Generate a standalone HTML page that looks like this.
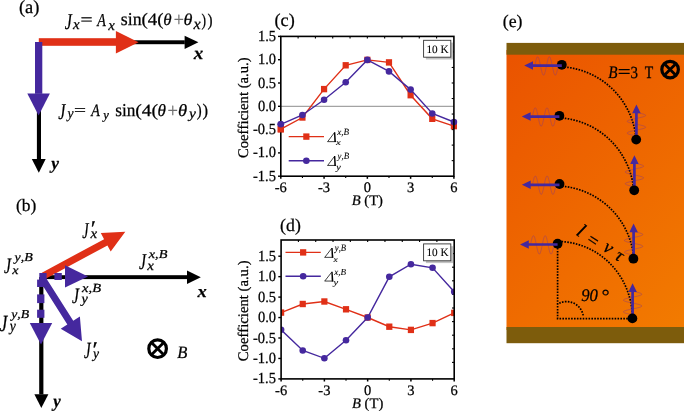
<!DOCTYPE html>
<html><head><meta charset="utf-8"><style>
html,body{margin:0;padding:0;background:#fff;overflow:hidden;}
svg{display:block;will-change:transform;font-family:"Liberation Serif",serif;font-kerning:none;text-rendering:geometricPrecision;}
text{stroke:currentColor;stroke-width:0.25px;}
</style></head><body>
<svg width="685" height="411" viewBox="0 0 685 411">
<text transform="translate(18.98,12.58)" font-size="18.418" >(a)</text>
<rect x="130" y="40.3" width="54.8" height="3.9" fill="#000"/>
<polygon points="184.60,35.70 198.40,42.25 184.60,48.90" fill="#000" />
<rect x="38.8" y="38.2" width="77.3" height="7.6" fill="#e03017"/>
<polygon points="115.90,31.00 138.60,42.20 115.90,53.50" fill="#e03017" />
<rect x="36.9" y="110" width="4.1" height="49.3" fill="#000"/>
<polygon points="31.80,159.10 38.80,172.70 45.70,159.10" fill="#000" />
<rect x="35" y="42" width="7.3" height="51.8" fill="#45289e"/>
<polygon points="27.30,93.60 38.60,115.60 49.90,93.60" fill="#45289e" />
<text transform="translate(193.73,59.30) scale(1.067,1)" font-size="17.866" font-style="italic" font-weight="bold" >x</text>
<text transform="translate(51.14,168.53) scale(0.993,1)" font-size="17.487" font-style="italic" font-weight="bold" >y</text>
<text transform="translate(64.76,28.58) scale(0.706,1)" font-size="22.722" font-style="italic" >J</text>
<text transform="translate(72.88,29.20) scale(1.023,1)" font-size="14.597" font-style="italic" >x</text>
<text transform="translate(80.43,25.38) scale(1.279,1)" font-size="16.800" >=</text>
<text transform="translate(97.27,25.60) scale(0.773,1)" font-size="18.178" font-style="italic" >A</text>
<text transform="translate(108.18,29.50) scale(1.023,1)" font-size="14.597" font-style="italic" >x</text>
<text transform="translate(120.77,25.42) scale(0.982,1)" font-size="18.158" >sin</text>
<text transform="translate(141.47,25.49) scale(1.085,1)" font-size="17.425" >(4(</text>
<text transform="translate(163.17,25.14) scale(1.027,1)" font-size="16.502" font-style="italic" >θ</text>
<text transform="translate(173.70,26.46) scale(0.914,1)" font-size="19.750" style="fill:#707070;stroke:#707070;" >+</text>
<text transform="translate(183.51,25.14) scale(1.099,1)" font-size="16.502" font-style="italic" >θ</text>
<text transform="translate(193.60,29.40) scale(1.023,1)" font-size="15.687" font-style="italic" >x</text>
<text transform="translate(201.56,25.60) scale(0.763,1)" font-size="17.866" >)</text>
<text transform="translate(207.61,25.60) scale(0.850,1)" font-size="17.866" >)</text>
<text transform="translate(58.36,118.98) scale(0.706,1)" font-size="22.722" font-style="italic" >J</text>
<text transform="translate(67.44,118.23) scale(0.930,1)" font-size="14.671" font-style="italic" >y</text>
<text transform="translate(73.94,114.95) scale(1.400,1)" font-size="15.200" >=</text>
<text transform="translate(91.27,115.70) scale(0.814,1)" font-size="17.269" font-style="italic" >A</text>
<text transform="translate(103.36,118.79) scale(0.973,1)" font-size="13.041" font-style="italic" >y</text>
<text transform="translate(115.29,115.52) scale(0.952,1)" font-size="18.158" >sin</text>
<text transform="translate(135.24,115.54) scale(1.136,1)" font-size="17.205" >(4(</text>
<text transform="translate(157.56,115.53) scale(1.007,1)" font-size="17.067" font-style="italic" >θ</text>
<text transform="translate(167.48,116.56) scale(0.936,1)" font-size="19.750" style="fill:#707070;stroke:#707070;" >+</text>
<text transform="translate(177.99,115.53) scale(1.091,1)" font-size="17.067" font-style="italic" >θ</text>
<text transform="translate(189.00,118.36) scale(1.104,1)" font-size="14.078" font-style="italic" >y</text>
<text transform="translate(196.82,115.62) scale(0.833,1)" font-size="17.756" >)</text>
<text transform="translate(202.46,115.62) scale(0.943,1)" font-size="17.756" >)</text>
<text transform="translate(15.99,211.39)" font-size="17.425" >(b)</text>
<rect x="41" y="275.2" width="146.2" height="3.9" fill="#000"/>
<polygon points="187.00,270.50 200.80,277.20 187.00,283.90" fill="#000" />
<rect x="39.2" y="277" width="4.2" height="117.4" fill="#000"/>
<polygon points="34.40,394.20 41.30,407.90 48.40,394.20" fill="#000" />
<polygon points="45.18,278.93 107.43,245.44 110.70,251.52 125.30,231.80 100.80,233.11 104.07,239.19 41.82,272.67" fill="#e03017" />
<polygon points="39.04,279.87 67.33,324.57 60.70,328.76 82.00,341.20 79.88,316.62 73.25,320.82 44.96,276.13" fill="#45289e" />
<rect x="39.3" y="273.0" width="7.3" height="7.0" fill="#45289e"/>
<rect x="54.4" y="273.0" width="7.4" height="7.0" fill="#45289e"/>
<polygon points="65.00,265.30 88.00,276.50 65.00,287.40" fill="#45289e" />
<rect x="37.1" y="279.6" width="7.2" height="7.4" fill="#45289e"/>
<rect x="37.1" y="294.4" width="7.3" height="8.7" fill="#45289e"/>
<rect x="37.1" y="309.7" width="7.3" height="8.1" fill="#45289e"/>
<polygon points="29.80,323.00 41.00,344.60 52.20,323.00" fill="#45289e" />
<text transform="translate(4.06,273.38) scale(0.715,1)" font-size="22.120" font-style="italic" >J</text>
<text transform="translate(14.57,261.36) scale(1.149,1)" font-size="12.163" font-style="italic" >y,B</text>
<text transform="translate(12.17,274.00) scale(1.151,1)" font-size="12.201" font-style="italic" >x</text>
<text transform="translate(139.06,268.98) scale(0.696,1)" font-size="22.722" font-style="italic" >J</text>
<text transform="translate(148.77,257.66) scale(1.175,1)" font-size="12.163" font-style="italic" >x,B</text>
<text transform="translate(147.18,270.20) scale(1.088,1)" font-size="13.726" font-style="italic" >x</text>
<text transform="translate(72.06,302.98) scale(0.715,1)" font-size="22.120" font-style="italic" >J</text>
<text transform="translate(82.08,291.56) scale(1.164,1)" font-size="12.467" font-style="italic" >x,B</text>
<text transform="translate(81.49,302.83) scale(1.031,1)" font-size="13.782" font-style="italic" >y</text>
<text transform="translate(-0.26,331.07) scale(0.738,1)" font-size="23.174" font-style="italic" >J</text>
<text transform="translate(11.25,318.46) scale(1.131,1)" font-size="12.163" font-style="italic" >y,B</text>
<text transform="translate(9.74,330.84) scale(0.877,1)" font-size="15.560" font-style="italic" >y</text>
<text transform="translate(82.18,237.58) scale(0.630,1)" font-size="22.722" font-style="italic" >J</text>
<text transform="translate(90.81,235.98) scale(1.070,1)" font-size="22.566" >′</text>
<text transform="translate(90.48,238.40) scale(1.071,1)" font-size="13.944" font-style="italic" >x</text>
<text transform="translate(83.97,358.47) scale(0.642,1)" font-size="23.324" font-style="italic" >J</text>
<text transform="translate(92.47,356.98) scale(1.107,1)" font-size="22.566" >′</text>
<text transform="translate(92.94,358.26) scale(0.969,1)" font-size="14.078" font-style="italic" >y</text>
<text transform="translate(197.53,297.10) scale(1.072,1)" font-size="17.212" font-style="italic" font-weight="bold" >x</text>
<text transform="translate(53.18,406.60) scale(0.931,1)" font-size="18.079" font-style="italic" font-weight="bold" >y</text>
<text transform="translate(177.15,357.65) scale(0.956,1)" font-size="17.333" font-style="italic" >B</text>
<circle cx="157.6" cy="348.7" r="8.8" fill="none" stroke="#000" stroke-width="3.2"/>
<path d="M152.2,343.3 L163.0,354.09999999999997 M163.0,343.3 L152.2,354.09999999999997" stroke="#000" stroke-width="2.8"/>
<line x1="280.8" x2="453.9" y1="106.30" y2="106.30" stroke="#8c8c8c" stroke-width="1"/>
<line x1="278.00" x2="280.8" y1="176.20" y2="176.20" stroke="#000" stroke-width="1.4"/>
<text transform="matrix(1,0,0,1.065,0,-11.414)" x="276.0" y="180.45" font-size="14.5" text-anchor="end">-1.5</text>
<line x1="278.00" x2="280.8" y1="152.90" y2="152.90" stroke="#000" stroke-width="1.4"/>
<text transform="matrix(1,0,0,1.065,0,-9.899)" x="276.0" y="157.15" font-size="14.5" text-anchor="end">-1.0</text>
<line x1="278.00" x2="280.8" y1="129.60" y2="129.60" stroke="#000" stroke-width="1.4"/>
<text transform="matrix(1,0,0,1.065,0,-8.385)" x="276.0" y="133.85" font-size="14.5" text-anchor="end">-0.5</text>
<line x1="278.00" x2="280.8" y1="106.30" y2="106.30" stroke="#000" stroke-width="1.4"/>
<text transform="matrix(1,0,0,1.065,0,-6.870)" x="276.0" y="110.55" font-size="14.5" text-anchor="end">0.0</text>
<line x1="278.00" x2="280.8" y1="83.00" y2="83.00" stroke="#000" stroke-width="1.4"/>
<text transform="matrix(1,0,0,1.065,0,-5.356)" x="276.0" y="87.25" font-size="14.5" text-anchor="end">0.5</text>
<line x1="278.00" x2="280.8" y1="59.70" y2="59.70" stroke="#000" stroke-width="1.4"/>
<text transform="matrix(1,0,0,1.065,0,-3.841)" x="276.0" y="63.95" font-size="14.5" text-anchor="end">1.0</text>
<line x1="278.00" x2="280.8" y1="36.40" y2="36.40" stroke="#000" stroke-width="1.4"/>
<text transform="matrix(1,0,0,1.065,0,-2.327)" x="276.0" y="40.65" font-size="14.5" text-anchor="end">1.5</text>
<line x1="451.70" x2="453.9" y1="51.93" y2="51.93" stroke="#000" stroke-width="1.1"/>
<line x1="451.70" x2="453.9" y1="67.46" y2="67.46" stroke="#000" stroke-width="1.1"/>
<line x1="451.70" x2="453.9" y1="82.99" y2="82.99" stroke="#000" stroke-width="1.1"/>
<line x1="451.70" x2="453.9" y1="98.52" y2="98.52" stroke="#000" stroke-width="1.1"/>
<line x1="451.70" x2="453.9" y1="114.05" y2="114.05" stroke="#000" stroke-width="1.1"/>
<line x1="451.70" x2="453.9" y1="129.58" y2="129.58" stroke="#000" stroke-width="1.1"/>
<line x1="451.70" x2="453.9" y1="145.11" y2="145.11" stroke="#000" stroke-width="1.1"/>
<line x1="451.70" x2="453.9" y1="160.64" y2="160.64" stroke="#000" stroke-width="1.1"/>
<line x1="280.80" x2="280.80" y1="176.2" y2="178.79999999999998" stroke="#000" stroke-width="1.5"/>
<text x="280.80" y="192.10" font-size="14.5" text-anchor="middle">-6</text>
<line x1="324.07" x2="324.07" y1="176.2" y2="178.79999999999998" stroke="#000" stroke-width="1.5"/>
<text x="324.07" y="192.10" font-size="14.5" text-anchor="middle">-3</text>
<line x1="367.35" x2="367.35" y1="176.2" y2="178.79999999999998" stroke="#000" stroke-width="1.5"/>
<text x="367.35" y="192.10" font-size="14.5" text-anchor="middle">0</text>
<line x1="410.62" x2="410.62" y1="176.2" y2="178.79999999999998" stroke="#000" stroke-width="1.5"/>
<text x="410.62" y="192.10" font-size="14.5" text-anchor="middle">3</text>
<line x1="453.90" x2="453.90" y1="176.2" y2="178.79999999999998" stroke="#000" stroke-width="1.5"/>
<text x="453.90" y="192.10" font-size="14.5" text-anchor="middle">6</text>
<line x1="302.44" x2="302.44" y1="176.2" y2="178.1" stroke="#000" stroke-width="1.1"/>
<line x1="345.71" x2="345.71" y1="176.2" y2="178.1" stroke="#000" stroke-width="1.1"/>
<line x1="388.99" x2="388.99" y1="176.2" y2="178.1" stroke="#000" stroke-width="1.1"/>
<line x1="432.26" x2="432.26" y1="176.2" y2="178.1" stroke="#000" stroke-width="1.1"/>
<line x1="298.11" x2="298.11" y1="36.4" y2="38.4" stroke="#000" stroke-width="1.1"/>
<line x1="315.42" x2="315.42" y1="36.4" y2="38.4" stroke="#000" stroke-width="1.1"/>
<line x1="332.73" x2="332.73" y1="36.4" y2="38.4" stroke="#000" stroke-width="1.1"/>
<line x1="350.04" x2="350.04" y1="36.4" y2="38.4" stroke="#000" stroke-width="1.1"/>
<line x1="367.35" x2="367.35" y1="36.4" y2="38.4" stroke="#000" stroke-width="1.1"/>
<line x1="384.66" x2="384.66" y1="36.4" y2="38.4" stroke="#000" stroke-width="1.1"/>
<line x1="401.97" x2="401.97" y1="36.4" y2="38.4" stroke="#000" stroke-width="1.1"/>
<line x1="419.28" x2="419.28" y1="36.4" y2="38.4" stroke="#000" stroke-width="1.1"/>
<line x1="436.59" x2="436.59" y1="36.4" y2="38.4" stroke="#000" stroke-width="1.1"/>
<text x="367.35" y="205.00" font-size="14.6" text-anchor="middle"><tspan font-style="italic">B</tspan> (T)</text>
<text transform="translate(248,107.70) rotate(-90)" font-size="14.7" text-anchor="middle">Coefficient (a.u.)</text>
<text transform="translate(274.50,25.93)" font-size="18.197" >(c)</text>
<rect x="425.90000000000003" y="42.599999999999994" width="27.2" height="16.9" fill="#c4c4c4"/>
<rect x="423.6" y="40.3" width="27.2" height="16.9" fill="#fff" stroke="#333" stroke-width="0.9"/>
<text transform="translate(426.41,52.69)" font-size="11.263" style="stroke-width:0.1px;" >10 K</text>
<clipPath id="clipc"><rect x="280.8" y="36.4" width="173.10" height="139.80"/></clipPath>
<g>
<polyline points="280.80,129.2 302.44,117.5 324.07,89.1 345.71,65.3 367.35,59.9 388.99,62.4 410.62,95.2 432.26,118.8 453.90,126.1" fill="none" stroke="#e03017" stroke-width="1.4"/>
<rect x="277.70" y="126.00" width="6.2" height="6.4" fill="#e03017"/>
<rect x="299.34" y="114.30" width="6.2" height="6.4" fill="#e03017"/>
<rect x="320.97" y="85.90" width="6.2" height="6.4" fill="#e03017"/>
<rect x="342.61" y="62.10" width="6.2" height="6.4" fill="#e03017"/>
<rect x="364.25" y="56.70" width="6.2" height="6.4" fill="#e03017"/>
<rect x="385.89" y="59.20" width="6.2" height="6.4" fill="#e03017"/>
<rect x="407.52" y="92.00" width="6.2" height="6.4" fill="#e03017"/>
<rect x="429.16" y="115.60" width="6.2" height="6.4" fill="#e03017"/>
<rect x="450.80" y="122.90" width="6.2" height="6.4" fill="#e03017"/>
<polyline points="280.80,124.3 302.44,115.0 324.07,99.8 345.71,82.3 367.35,59.9 388.99,71.4 410.62,89.6 432.26,113.5 453.90,122.0" fill="none" stroke="#45289e" stroke-width="1.4"/>
<circle cx="280.80" cy="124.3" r="3.3" fill="#45289e"/>
<circle cx="302.44" cy="115.0" r="3.3" fill="#45289e"/>
<circle cx="324.07" cy="99.8" r="3.3" fill="#45289e"/>
<circle cx="345.71" cy="82.3" r="3.3" fill="#45289e"/>
<circle cx="367.35" cy="59.9" r="3.3" fill="#45289e"/>
<circle cx="388.99" cy="71.4" r="3.3" fill="#45289e"/>
<circle cx="410.62" cy="89.6" r="3.3" fill="#45289e"/>
<circle cx="432.26" cy="113.5" r="3.3" fill="#45289e"/>
<circle cx="453.90" cy="122.0" r="3.3" fill="#45289e"/>
</g>
<rect x="280.8" y="36.4" width="173.10" height="139.80" fill="none" stroke="#000" stroke-width="1.6"/>
<rect x="277.70" y="126.00" width="6.2" height="6.4" fill="#e03017"/>
<circle cx="280.80" cy="124.3" r="3.3" fill="#45289e"/>
<line x1="288.7" x2="324.0" y1="136.6" y2="136.6" stroke="#e03017" stroke-width="1.4"/>
<rect x="303.25" y="133.40" width="6.2" height="6.4" fill="#e03017"/>
<line x1="288.7" x2="324.0" y1="160.7" y2="160.7" stroke="#45289e" stroke-width="1.4"/>
<circle cx="306.35" cy="160.7" r="3.3" fill="#45289e"/>
<path d="M327.65,141.65 L334.39,132.70 M327.45,141.65 L335.85,141.65" stroke="#000" stroke-width="0.75" fill="none"/>
<polygon points="333.94,132.30 335.34,132.30 335.95,142.10 334.35,142.10" fill="#000" />
<text transform="translate(337.21,135.07) scale(0.967,1)" font-size="9.427" font-style="italic" style="stroke-width:0.1px;" >x,B</text>
<text transform="translate(336.03,145.40) scale(1.364,1)" font-size="7.843" font-style="italic" style="stroke-width:0.1px;" >x</text>
<path d="M327.65,165.45 L334.39,156.50 M327.45,165.45 L335.85,165.45" stroke="#000" stroke-width="0.75" fill="none"/>
<polygon points="333.94,156.10 335.34,156.10 335.95,165.90 334.35,165.90" fill="#000" />
<text transform="translate(337.54,159.27) scale(0.940,1)" font-size="9.427" font-style="italic" style="stroke-width:0.1px;" >y,B</text>
<text transform="translate(336.15,169.68) scale(1.151,1)" font-size="8.891" font-style="italic" style="stroke-width:0.1px;" >y</text>
<line x1="278.30" x2="281.1" y1="378.90" y2="378.90" stroke="#000" stroke-width="1.4"/>
<text transform="matrix(1,0,0,1.065,0,-24.589)" x="276.0" y="383.15" font-size="14.5" text-anchor="end">-1.5</text>
<line x1="278.30" x2="281.1" y1="358.45" y2="358.45" stroke="#000" stroke-width="1.4"/>
<text transform="matrix(1,0,0,1.065,0,-23.260)" x="276.0" y="362.70" font-size="14.5" text-anchor="end">-1.0</text>
<line x1="278.30" x2="281.1" y1="338.00" y2="338.00" stroke="#000" stroke-width="1.4"/>
<text transform="matrix(1,0,0,1.065,0,-21.931)" x="276.0" y="342.25" font-size="14.5" text-anchor="end">-0.5</text>
<line x1="278.30" x2="281.1" y1="317.55" y2="317.55" stroke="#000" stroke-width="1.4"/>
<text transform="matrix(1,0,0,1.065,0,-20.602)" x="276.0" y="321.80" font-size="14.5" text-anchor="end">0.0</text>
<line x1="278.30" x2="281.1" y1="297.10" y2="297.10" stroke="#000" stroke-width="1.4"/>
<text transform="matrix(1,0,0,1.065,0,-19.272)" x="276.0" y="301.35" font-size="14.5" text-anchor="end">0.5</text>
<line x1="278.30" x2="281.1" y1="276.65" y2="276.65" stroke="#000" stroke-width="1.4"/>
<text transform="matrix(1,0,0,1.065,0,-17.943)" x="276.0" y="280.90" font-size="14.5" text-anchor="end">1.0</text>
<line x1="278.30" x2="281.1" y1="256.20" y2="256.20" stroke="#000" stroke-width="1.4"/>
<text transform="matrix(1,0,0,1.065,0,-16.614)" x="276.0" y="260.45" font-size="14.5" text-anchor="end">1.5</text>
<line x1="452.00" x2="454.2" y1="253.60" y2="253.60" stroke="#000" stroke-width="1.1"/>
<line x1="452.00" x2="454.2" y1="267.20" y2="267.20" stroke="#000" stroke-width="1.1"/>
<line x1="452.00" x2="454.2" y1="280.80" y2="280.80" stroke="#000" stroke-width="1.1"/>
<line x1="452.00" x2="454.2" y1="294.40" y2="294.40" stroke="#000" stroke-width="1.1"/>
<line x1="452.00" x2="454.2" y1="308.00" y2="308.00" stroke="#000" stroke-width="1.1"/>
<line x1="452.00" x2="454.2" y1="321.60" y2="321.60" stroke="#000" stroke-width="1.1"/>
<line x1="452.00" x2="454.2" y1="335.20" y2="335.20" stroke="#000" stroke-width="1.1"/>
<line x1="452.00" x2="454.2" y1="348.80" y2="348.80" stroke="#000" stroke-width="1.1"/>
<line x1="452.00" x2="454.2" y1="362.40" y2="362.40" stroke="#000" stroke-width="1.1"/>
<line x1="281.10" x2="281.10" y1="378.9" y2="381.5" stroke="#000" stroke-width="1.5"/>
<text x="281.10" y="394.80" font-size="14.5" text-anchor="middle">-6</text>
<line x1="324.38" x2="324.38" y1="378.9" y2="381.5" stroke="#000" stroke-width="1.5"/>
<text x="324.38" y="394.80" font-size="14.5" text-anchor="middle">-3</text>
<line x1="367.65" x2="367.65" y1="378.9" y2="381.5" stroke="#000" stroke-width="1.5"/>
<text x="367.65" y="394.80" font-size="14.5" text-anchor="middle">0</text>
<line x1="410.92" x2="410.92" y1="378.9" y2="381.5" stroke="#000" stroke-width="1.5"/>
<text x="410.92" y="394.80" font-size="14.5" text-anchor="middle">3</text>
<line x1="454.20" x2="454.20" y1="378.9" y2="381.5" stroke="#000" stroke-width="1.5"/>
<text x="454.20" y="394.80" font-size="14.5" text-anchor="middle">6</text>
<line x1="302.74" x2="302.74" y1="378.9" y2="380.79999999999995" stroke="#000" stroke-width="1.1"/>
<line x1="346.01" x2="346.01" y1="378.9" y2="380.79999999999995" stroke="#000" stroke-width="1.1"/>
<line x1="389.29" x2="389.29" y1="378.9" y2="380.79999999999995" stroke="#000" stroke-width="1.1"/>
<line x1="432.56" x2="432.56" y1="378.9" y2="380.79999999999995" stroke="#000" stroke-width="1.1"/>
<line x1="298.41" x2="298.41" y1="240.0" y2="242.0" stroke="#000" stroke-width="1.1"/>
<line x1="315.72" x2="315.72" y1="240.0" y2="242.0" stroke="#000" stroke-width="1.1"/>
<line x1="333.03" x2="333.03" y1="240.0" y2="242.0" stroke="#000" stroke-width="1.1"/>
<line x1="350.34" x2="350.34" y1="240.0" y2="242.0" stroke="#000" stroke-width="1.1"/>
<line x1="367.65" x2="367.65" y1="240.0" y2="242.0" stroke="#000" stroke-width="1.1"/>
<line x1="384.96" x2="384.96" y1="240.0" y2="242.0" stroke="#000" stroke-width="1.1"/>
<line x1="402.27" x2="402.27" y1="240.0" y2="242.0" stroke="#000" stroke-width="1.1"/>
<line x1="419.58" x2="419.58" y1="240.0" y2="242.0" stroke="#000" stroke-width="1.1"/>
<line x1="436.89" x2="436.89" y1="240.0" y2="242.0" stroke="#000" stroke-width="1.1"/>
<text x="367.65" y="407.70" font-size="14.6" text-anchor="middle"><tspan font-style="italic">B</tspan> (T)</text>
<text transform="translate(248,310.85) rotate(-90)" font-size="14.7" text-anchor="middle">Coefficient (a.u.)</text>
<text transform="translate(280.10,230.52)" font-size="17.756" >(d)</text>
<rect x="425.90000000000003" y="246.20000000000002" width="27.2" height="16.9" fill="#c4c4c4"/>
<rect x="423.6" y="243.9" width="27.2" height="16.9" fill="#fff" stroke="#333" stroke-width="0.9"/>
<text transform="translate(426.41,256.29)" font-size="11.263" style="stroke-width:0.1px;" >10 K</text>
<clipPath id="clipd"><rect x="281.1" y="240.0" width="173.10" height="138.90"/></clipPath>
<g clip-path="url(#clipd)">
<polyline points="281.10,312.6 302.74,304.0 324.38,301.5 346.01,309.3 367.65,317.5 389.29,326.7 410.92,329.9 432.56,323.1 454.20,312.9" fill="none" stroke="#e03017" stroke-width="1.4"/>
<rect x="278.00" y="309.40" width="6.2" height="6.4" fill="#e03017"/>
<rect x="299.64" y="300.80" width="6.2" height="6.4" fill="#e03017"/>
<rect x="321.27" y="298.30" width="6.2" height="6.4" fill="#e03017"/>
<rect x="342.91" y="306.10" width="6.2" height="6.4" fill="#e03017"/>
<rect x="364.55" y="314.30" width="6.2" height="6.4" fill="#e03017"/>
<rect x="386.19" y="323.50" width="6.2" height="6.4" fill="#e03017"/>
<rect x="407.82" y="326.70" width="6.2" height="6.4" fill="#e03017"/>
<rect x="429.46" y="319.90" width="6.2" height="6.4" fill="#e03017"/>
<rect x="451.10" y="309.70" width="6.2" height="6.4" fill="#e03017"/>
<polyline points="281.10,329.8 302.74,350.5 324.38,358.3 346.01,340.3 367.65,317.5 389.29,276.8 410.92,264.2 432.56,267.8 454.20,291.7" fill="none" stroke="#45289e" stroke-width="1.4"/>
<circle cx="281.10" cy="329.8" r="3.3" fill="#45289e"/>
<circle cx="302.74" cy="350.5" r="3.3" fill="#45289e"/>
<circle cx="324.38" cy="358.3" r="3.3" fill="#45289e"/>
<circle cx="346.01" cy="340.3" r="3.3" fill="#45289e"/>
<circle cx="367.65" cy="317.5" r="3.3" fill="#45289e"/>
<circle cx="389.29" cy="276.8" r="3.3" fill="#45289e"/>
<circle cx="410.92" cy="264.2" r="3.3" fill="#45289e"/>
<circle cx="432.56" cy="267.8" r="3.3" fill="#45289e"/>
<circle cx="454.20" cy="291.7" r="3.3" fill="#45289e"/>
</g>
<rect x="281.1" y="240.0" width="173.10" height="138.90" fill="none" stroke="#000" stroke-width="1.6"/>
<line x1="285.5" x2="320.8" y1="252.4" y2="252.4" stroke="#e03017" stroke-width="1.4"/>
<rect x="300.05" y="249.20" width="6.2" height="6.4" fill="#e03017"/>
<line x1="285.5" x2="320.8" y1="276.3" y2="276.3" stroke="#45289e" stroke-width="1.4"/>
<circle cx="303.15" cy="276.3" r="3.3" fill="#45289e"/>
<path d="M324.75,257.35 L331.74,248.30 M324.55,257.35 L333.25,257.35" stroke="#000" stroke-width="0.75" fill="none"/>
<polygon points="331.29,247.90 332.69,247.90 333.35,257.80 331.75,257.80" fill="#000" />
<text transform="translate(334.82,251.17) scale(0.888,1)" font-size="9.731" font-style="italic" style="stroke-width:0.1px;" >y,B</text>
<text transform="translate(333.41,261.70) scale(1.264,1)" font-size="7.408" font-style="italic" style="stroke-width:0.1px;" >x</text>
<path d="M324.75,281.05 L331.74,272.10 M324.55,281.05 L333.25,281.05" stroke="#000" stroke-width="0.75" fill="none"/>
<polygon points="331.29,271.70 332.69,271.70 333.35,281.50 331.75,281.50" fill="#000" />
<text transform="translate(334.21,275.07) scale(0.983,1)" font-size="9.275" font-style="italic" style="stroke-width:0.1px;" >x,B</text>
<text transform="translate(333.47,285.47) scale(1.302,1)" font-size="8.002" font-style="italic" style="stroke-width:0.1px;" >y</text>
<text transform="translate(502.75,27.12)" font-size="17.756" >(e)</text>
<defs><linearGradient id="og" gradientUnits="userSpaceOnUse" x1="506" y1="54.7" x2="731" y2="279.7">
<stop offset="0" stop-color="#ea5300"/><stop offset="1" stop-color="#f27b00"/></linearGradient></defs>
<rect x="506.5" y="50" width="177.5" height="280" fill="url(#og)"/>
<rect x="506.5" y="42.9" width="177.5" height="11.8" fill="#7d5c0c"/>
<rect x="506.5" y="327.0" width="177.5" height="16.2" fill="#7d5c0c"/>
<polyline points="564.30,67.00 566.08,67.18 567.85,67.39 569.61,67.65 571.37,67.95 573.12,68.28 574.87,68.66 576.60,69.07 578.33,69.52 580.05,70.02 581.75,70.55 583.44,71.11 585.12,71.72 586.78,72.37 588.43,73.05 590.06,73.77 591.68,74.52 593.28,75.32 594.86,76.14 596.42,77.01 597.96,77.91 599.48,78.84 600.98,79.81 602.46,80.81 603.91,81.84 605.34,82.91 606.75,84.01 608.13,85.14 609.48,86.30 610.81,87.49 612.11,88.71 613.38,89.96 614.63,91.24 615.84,92.55 617.03,93.88 618.19,95.24 619.31,96.63 620.40,98.04 621.46,99.47 622.49,100.93 623.48,102.41 624.45,103.92 625.37,105.44 626.26,106.99 627.12,108.55 627.94,110.13 628.73,111.74 629.48,113.36 630.19,114.99 630.86,116.64 631.50,118.31 632.10,119.99 632.66,121.68 633.18,123.39 633.67,125.11 634.11,126.83 634.52,128.57 634.89,130.32 635.22,132.07 635.50,133.83 635.75,135.60" stroke="#000" stroke-width="1.7" stroke-dasharray="1.6 1.3" fill="none"/>
<polyline points="561.90,118.00 563.67,118.18 565.44,118.39 567.20,118.65 568.95,118.94 570.70,119.28 572.44,119.65 574.17,120.06 575.89,120.51 577.60,121.00 579.30,121.53 580.99,122.10 582.66,122.70 584.32,123.34 585.96,124.02 587.59,124.74 589.21,125.49 590.80,126.28 592.38,127.10 593.94,127.96 595.47,128.86 596.99,129.78 598.49,130.75 599.96,131.74 601.41,132.77 602.84,133.83 604.24,134.93 605.62,136.05 606.98,137.21 608.30,138.39 609.60,139.61 610.87,140.85 612.12,142.12 613.33,143.42 614.52,144.75 615.67,146.10 616.80,147.48 617.89,148.89 618.95,150.32 619.98,151.77 620.97,153.24 621.94,154.74 622.86,156.26 623.76,157.80 624.62,159.35 625.44,160.93 626.23,162.53 626.98,164.14 627.69,165.77 628.37,167.41 629.01,169.07 629.62,170.75 630.18,172.43 630.71,174.13 631.20,175.84 631.65,177.57 632.06,179.30 632.43,181.04 632.76,182.78 633.06,184.54 633.31,186.30" stroke="#000" stroke-width="1.7" stroke-dasharray="1.6 1.3" fill="none"/>
<polyline points="562.00,186.20 563.77,186.38 565.54,186.59 567.31,186.85 569.07,187.14 570.82,187.48 572.56,187.85 574.29,188.27 576.02,188.72 577.73,189.21 579.43,189.74 581.12,190.31 582.80,190.91 584.46,191.56 586.11,192.24 587.74,192.96 589.35,193.71 590.95,194.50 592.53,195.33 594.09,196.19 595.63,197.09 597.15,198.02 598.65,198.99 600.13,199.99 601.58,201.02 603.01,202.08 604.41,203.18 605.79,204.31 607.15,205.47 608.47,206.66 609.78,207.88 611.05,209.13 612.29,210.40 613.51,211.71 614.69,213.04 615.85,214.40 616.97,215.78 618.06,217.19 619.12,218.62 620.15,220.08 621.15,221.56 622.11,223.06 623.04,224.58 623.93,226.12 624.79,227.69 625.61,229.27 626.39,230.87 627.14,232.48 627.86,234.12 628.53,235.77 629.17,237.43 629.77,239.11 630.33,240.80 630.86,242.50 631.35,244.22 631.79,245.95 632.20,247.68 632.57,249.42 632.90,251.18 633.19,252.94 633.44,254.70" stroke="#000" stroke-width="1.7" stroke-dasharray="1.6 1.3" fill="none"/>
<polyline points="561.51,241.61 563.34,241.73 565.16,241.89 566.97,242.11 568.79,242.36 570.59,242.67 572.38,243.02 574.17,243.41 575.95,243.85 577.72,244.33 579.47,244.86 581.21,245.43 582.94,246.05 584.65,246.70 586.35,247.41 588.02,248.15 589.68,248.93 591.33,249.76 592.95,250.63 594.55,251.54 596.12,252.48 597.68,253.47 599.21,254.50 600.72,255.56 602.20,256.66 603.65,257.80 605.08,258.98 606.48,260.19 607.84,261.43 609.18,262.71 610.49,264.02 611.77,265.37 613.01,266.74 614.22,268.15 615.40,269.59 616.54,271.06 617.65,272.55 618.72,274.07 619.76,275.62 620.76,277.19 621.72,278.79 622.64,280.42 623.52,282.06 624.37,283.73 625.17,285.41 625.93,287.12 626.66,288.85 627.34,290.59 627.98,292.35 628.58,294.13 629.13,295.92 629.64,297.72 630.11,299.54 630.54,301.36 630.92,303.20 631.26,305.05 631.56,306.90 631.81,308.76 632.02,310.63 632.18,312.50 632.30,314.38" stroke="#000" stroke-width="1.7" stroke-dasharray="1.6 1.3" fill="none"/>
<path d="M557.6,248 L557.6,318.6 L628,318.6" stroke="#000" stroke-width="1.7" stroke-dasharray="1.6 1.3" fill="none"/>
<path d="M559.32,303.19 A17,17 0 0 1 583.33,316.23" stroke="#000" stroke-width="1.7" stroke-dasharray="1.6 1.3" fill="none"/>
<polyline points="558.20,66.00 557.91,67.44 557.61,68.84 557.32,70.18 557.02,71.41 556.73,72.51 556.44,73.44 556.14,74.20 555.85,74.75 555.56,75.09 555.26,75.20 554.97,75.09 554.67,74.75 554.38,74.20 554.09,73.44 553.79,72.51 553.50,71.41 553.21,70.18 552.91,68.84 552.62,67.44 552.32,66.00 552.03,64.56 551.74,63.16 551.44,61.82 551.15,60.59 550.86,59.49 550.56,58.56 550.27,57.80 549.97,57.25 549.68,56.91 549.39,56.80 549.09,56.91 548.80,57.25 548.51,57.80 548.21,58.56 547.92,59.49 547.62,60.59 547.33,61.82 547.04,63.16 546.74,64.56 546.45,66.00 546.16,67.44 545.86,68.84 545.57,70.18 545.27,71.41 544.98,72.51 544.69,73.44 544.39,74.20 544.10,74.75 543.81,75.09 543.51,75.20 543.22,75.09 542.92,74.75 542.63,74.20 542.34,73.44 542.04,72.51 541.75,71.41 541.46,70.18 541.16,68.84 540.87,67.44 540.57,66.00 540.28,64.56 539.99,63.16 539.69,61.82 539.40,60.59 539.11,59.49 538.81,58.56 538.52,57.80 538.22,57.25 537.93,56.91 537.64,56.80 537.34,56.91 537.05,57.25 536.76,57.80 536.46,58.56 536.17,59.49 535.88,60.59 535.58,61.82 535.29,63.16 534.99,64.56 534.70,66.00" fill="none" stroke="#8c3a78" stroke-opacity="0.6" stroke-width="0.8"/>
<circle cx="561.8" cy="64.8" r="4.9" fill="#000"/>
<polygon points="561.80,64.25 533.00,64.25 533.00,61.35 524.20,65.60 533.00,69.85 533.00,66.95 561.80,66.95" fill="#45289e" />
<polyline points="555.80,117.00 555.51,118.44 555.21,119.84 554.92,121.18 554.62,122.41 554.33,123.51 554.04,124.44 553.74,125.20 553.45,125.75 553.16,126.09 552.86,126.20 552.57,126.09 552.27,125.75 551.98,125.20 551.69,124.44 551.39,123.51 551.10,122.41 550.81,121.18 550.51,119.84 550.22,118.44 549.92,117.00 549.63,115.56 549.34,114.16 549.04,112.82 548.75,111.59 548.46,110.49 548.16,109.56 547.87,108.80 547.57,108.25 547.28,107.91 546.99,107.80 546.69,107.91 546.40,108.25 546.11,108.80 545.81,109.56 545.52,110.49 545.23,111.59 544.93,112.82 544.64,114.16 544.34,115.56 544.05,117.00 543.76,118.44 543.46,119.84 543.17,121.18 542.88,122.41 542.58,123.51 542.29,124.44 541.99,125.20 541.70,125.75 541.41,126.09 541.11,126.20 540.82,126.09 540.52,125.75 540.23,125.20 539.94,124.44 539.64,123.51 539.35,122.41 539.06,121.18 538.76,119.84 538.47,118.44 538.17,117.00 537.88,115.56 537.59,114.16 537.29,112.82 537.00,111.59 536.71,110.49 536.41,109.56 536.12,108.80 535.82,108.25 535.53,107.91 535.24,107.80 534.94,107.91 534.65,108.25 534.36,108.80 534.06,109.56 533.77,110.49 533.48,111.59 533.18,112.82 532.89,114.16 532.59,115.56 532.30,117.00" fill="none" stroke="#8c3a78" stroke-opacity="0.6" stroke-width="0.8"/>
<circle cx="559.4" cy="115.8" r="4.9" fill="#000"/>
<polygon points="559.40,115.25 530.60,115.25 530.60,112.35 521.80,116.60 530.60,120.85 530.60,117.95 559.40,117.95" fill="#45289e" />
<polyline points="555.90,185.20 555.61,186.64 555.31,188.04 555.02,189.38 554.73,190.61 554.43,191.71 554.14,192.64 553.84,193.40 553.55,193.95 553.26,194.29 552.96,194.40 552.67,194.29 552.38,193.95 552.08,193.40 551.79,192.64 551.49,191.71 551.20,190.61 550.91,189.38 550.61,188.04 550.32,186.64 550.02,185.20 549.73,183.76 549.44,182.36 549.14,181.02 548.85,179.79 548.56,178.69 548.26,177.76 547.97,177.00 547.67,176.45 547.38,176.11 547.09,176.00 546.79,176.11 546.50,176.45 546.21,177.00 545.91,177.76 545.62,178.69 545.33,179.79 545.03,181.02 544.74,182.36 544.44,183.76 544.15,185.20 543.86,186.64 543.56,188.04 543.27,189.38 542.98,190.61 542.68,191.71 542.39,192.64 542.09,193.40 541.80,193.95 541.51,194.29 541.21,194.40 540.92,194.29 540.62,193.95 540.33,193.40 540.04,192.64 539.74,191.71 539.45,190.61 539.16,189.38 538.86,188.04 538.57,186.64 538.27,185.20 537.98,183.76 537.69,182.36 537.39,181.02 537.10,179.79 536.81,178.69 536.51,177.76 536.22,177.00 535.92,176.45 535.63,176.11 535.34,176.00 535.04,176.11 534.75,176.45 534.46,177.00 534.16,177.76 533.87,178.69 533.58,179.79 533.28,181.02 532.99,182.36 532.69,183.76 532.40,185.20" fill="none" stroke="#8c3a78" stroke-opacity="0.6" stroke-width="0.8"/>
<circle cx="559.5" cy="184.0" r="4.9" fill="#000"/>
<polygon points="559.50,183.45 530.70,183.45 530.70,180.55 521.90,184.80 530.70,189.05 530.70,186.15 559.50,186.15" fill="#45289e" />
<polyline points="554.00,244.90 553.71,246.34 553.41,247.74 553.12,249.08 552.83,250.31 552.53,251.41 552.24,252.34 551.94,253.10 551.65,253.65 551.36,253.99 551.06,254.10 550.77,253.99 550.48,253.65 550.18,253.10 549.89,252.34 549.59,251.41 549.30,250.31 549.01,249.08 548.71,247.74 548.42,246.34 548.12,244.90 547.83,243.46 547.54,242.06 547.24,240.72 546.95,239.49 546.66,238.39 546.36,237.46 546.07,236.70 545.77,236.15 545.48,235.81 545.19,235.70 544.89,235.81 544.60,236.15 544.31,236.70 544.01,237.46 543.72,238.39 543.43,239.49 543.13,240.72 542.84,242.06 542.54,243.46 542.25,244.90 541.96,246.34 541.66,247.74 541.37,249.08 541.08,250.31 540.78,251.41 540.49,252.34 540.19,253.10 539.90,253.65 539.61,253.99 539.31,254.10 539.02,253.99 538.73,253.65 538.43,253.10 538.14,252.34 537.84,251.41 537.55,250.31 537.26,249.08 536.96,247.74 536.67,246.34 536.38,244.90 536.08,243.46 535.79,242.06 535.49,240.72 535.20,239.49 534.91,238.39 534.61,237.46 534.32,236.70 534.02,236.15 533.73,235.81 533.44,235.70 533.14,235.81 532.85,236.15 532.56,236.70 532.26,237.46 531.97,238.39 531.68,239.49 531.38,240.72 531.09,242.06 530.79,243.46 530.50,244.90" fill="none" stroke="#8c3a78" stroke-opacity="0.6" stroke-width="0.8"/>
<circle cx="557.6" cy="243.7" r="4.9" fill="#000"/>
<polygon points="557.60,243.15 528.80,243.15 528.80,240.25 520.00,244.50 528.80,248.75 528.80,245.85 557.60,245.85" fill="#45289e" />
<polyline points="636.40,136.00 634.96,135.71 633.56,135.41 632.22,135.12 630.99,134.82 629.89,134.53 628.96,134.24 628.20,133.94 627.65,133.65 627.31,133.36 627.20,133.06 627.31,132.77 627.65,132.47 628.20,132.18 628.96,131.89 629.89,131.59 630.99,131.30 632.22,131.01 633.56,130.71 634.96,130.42 636.40,130.12 637.84,129.83 639.24,129.54 640.58,129.24 641.81,128.95 642.91,128.66 643.84,128.36 644.60,128.07 645.15,127.77 645.49,127.48 645.60,127.19 645.49,126.89 645.15,126.60 644.60,126.31 643.84,126.01 642.91,125.72 641.81,125.42 640.58,125.13 639.24,124.84 637.84,124.54 636.40,124.25 634.96,123.96 633.56,123.66 632.22,123.37 630.99,123.07 629.89,122.78 628.96,122.49 628.20,122.19 627.65,121.90 627.31,121.61 627.20,121.31 627.31,121.02 627.65,120.72 628.20,120.43 628.96,120.14 629.89,119.84 630.99,119.55 632.22,119.26 633.56,118.96 634.96,118.67 636.40,118.38 637.84,118.08 639.24,117.79 640.58,117.49 641.81,117.20 642.91,116.91 643.84,116.61 644.60,116.32 645.15,116.02 645.49,115.73 645.60,115.44 645.49,115.14 645.15,114.85 644.60,114.56 643.84,114.26 642.91,113.97 641.81,113.67 640.58,113.38 639.24,113.09 637.84,112.79 636.40,112.50" fill="none" stroke="#8c3a78" stroke-opacity="0.6" stroke-width="0.8"/>
<polygon points="637.75,139.60 637.75,113.20 640.65,113.20 636.40,104.50 632.15,113.20 635.05,113.20 635.05,139.60" fill="#45289e" />
<circle cx="636.2" cy="139.6" r="4.9" fill="#000"/>
<polyline points="634.40,186.70 632.96,186.41 631.56,186.11 630.22,185.82 628.99,185.53 627.89,185.23 626.96,184.94 626.20,184.64 625.65,184.35 625.31,184.06 625.20,183.76 625.31,183.47 625.65,183.18 626.20,182.88 626.96,182.59 627.89,182.29 628.99,182.00 630.22,181.71 631.56,181.41 632.96,181.12 634.40,180.83 635.84,180.53 637.24,180.24 638.58,179.94 639.81,179.65 640.91,179.36 641.84,179.06 642.60,178.77 643.15,178.48 643.49,178.18 643.60,177.89 643.49,177.59 643.15,177.30 642.60,177.01 641.84,176.71 640.91,176.42 639.81,176.12 638.58,175.83 637.24,175.54 635.84,175.24 634.40,174.95 632.96,174.66 631.56,174.36 630.22,174.07 628.99,173.78 627.89,173.48 626.96,173.19 626.20,172.89 625.65,172.60 625.31,172.31 625.20,172.01 625.31,171.72 625.65,171.43 626.20,171.13 626.96,170.84 627.89,170.54 628.99,170.25 630.22,169.96 631.56,169.66 632.96,169.37 634.40,169.08 635.84,168.78 637.24,168.49 638.58,168.19 639.81,167.90 640.91,167.61 641.84,167.31 642.60,167.02 643.15,166.73 643.49,166.43 643.60,166.14 643.49,165.84 643.15,165.55 642.60,165.26 641.84,164.96 640.91,164.67 639.81,164.38 638.58,164.08 637.24,163.79 635.84,163.49 634.40,163.20" fill="none" stroke="#8c3a78" stroke-opacity="0.6" stroke-width="0.8"/>
<polygon points="635.75,190.30 635.75,163.90 638.65,163.90 634.40,155.20 630.15,163.90 633.05,163.90 633.05,190.30" fill="#45289e" />
<circle cx="634.2" cy="190.3" r="4.9" fill="#000"/>
<polyline points="633.60,255.10 632.16,254.81 630.76,254.51 629.42,254.22 628.19,253.92 627.09,253.63 626.16,253.34 625.40,253.04 624.85,252.75 624.51,252.46 624.40,252.16 624.51,251.87 624.85,251.57 625.40,251.28 626.16,250.99 627.09,250.69 628.19,250.40 629.42,250.11 630.76,249.81 632.16,249.52 633.60,249.22 635.04,248.93 636.44,248.64 637.78,248.34 639.01,248.05 640.11,247.76 641.04,247.46 641.80,247.17 642.35,246.88 642.69,246.58 642.80,246.29 642.69,245.99 642.35,245.70 641.80,245.41 641.04,245.11 640.11,244.82 639.01,244.52 637.78,244.23 636.44,243.94 635.04,243.64 633.60,243.35 632.16,243.06 630.76,242.76 629.42,242.47 628.19,242.17 627.09,241.88 626.16,241.59 625.40,241.29 624.85,241.00 624.51,240.71 624.40,240.41 624.51,240.12 624.85,239.82 625.40,239.53 626.16,239.24 627.09,238.94 628.19,238.65 629.42,238.36 630.76,238.06 632.16,237.77 633.60,237.47 635.04,237.18 636.44,236.89 637.78,236.59 639.01,236.30 640.11,236.01 641.04,235.71 641.80,235.42 642.35,235.12 642.69,234.83 642.80,234.54 642.69,234.24 642.35,233.95 641.80,233.66 641.04,233.36 640.11,233.07 639.01,232.77 637.78,232.48 636.44,232.19 635.04,231.89 633.60,231.60" fill="none" stroke="#8c3a78" stroke-opacity="0.6" stroke-width="0.8"/>
<polygon points="634.95,258.70 634.95,232.30 637.85,232.30 633.60,223.60 629.35,232.30 632.25,232.30 632.25,258.70" fill="#45289e" />
<circle cx="633.4" cy="258.7" r="4.9" fill="#000"/>
<polyline points="632.60,314.80 631.16,314.51 629.76,314.21 628.42,313.92 627.19,313.62 626.09,313.33 625.16,313.04 624.40,312.74 623.85,312.45 623.51,312.16 623.40,311.86 623.51,311.57 623.85,311.27 624.40,310.98 625.16,310.69 626.09,310.39 627.19,310.10 628.42,309.81 629.76,309.51 631.16,309.22 632.60,308.92 634.04,308.63 635.44,308.34 636.78,308.04 638.01,307.75 639.11,307.46 640.04,307.16 640.80,306.87 641.35,306.57 641.69,306.28 641.80,305.99 641.69,305.69 641.35,305.40 640.80,305.11 640.04,304.81 639.11,304.52 638.01,304.22 636.78,303.93 635.44,303.64 634.04,303.34 632.60,303.05 631.16,302.76 629.76,302.46 628.42,302.17 627.19,301.88 626.09,301.58 625.16,301.29 624.40,300.99 623.85,300.70 623.51,300.41 623.40,300.11 623.51,299.82 623.85,299.52 624.40,299.23 625.16,298.94 626.09,298.64 627.19,298.35 628.42,298.06 629.76,297.76 631.16,297.47 632.60,297.17 634.04,296.88 635.44,296.59 636.78,296.29 638.01,296.00 639.11,295.71 640.04,295.41 640.80,295.12 641.35,294.82 641.69,294.53 641.80,294.24 641.69,293.94 641.35,293.65 640.80,293.36 640.04,293.06 639.11,292.77 638.01,292.47 636.78,292.18 635.44,291.89 634.04,291.59 632.60,291.30" fill="none" stroke="#8c3a78" stroke-opacity="0.6" stroke-width="0.8"/>
<polygon points="633.95,318.40 633.95,292.00 636.85,292.00 632.60,283.30 628.35,292.00 631.25,292.00 631.25,318.40" fill="#45289e" />
<circle cx="632.4" cy="318.4" r="4.9" fill="#000"/>
<text transform="translate(608.16,77.65) scale(0.868,1)" font-size="17.485" font-style="italic" >B</text>
<text transform="translate(617.77,78.26) scale(1.162,1)" font-size="19.600" >=</text>
<text transform="translate(630.58,77.53) scale(0.885,1)" font-size="16.967" >3</text>
<text transform="translate(644.75,77.70) scale(0.798,1)" font-size="17.410" >T</text>
<circle cx="670.1" cy="69.6" r="8.3" fill="none" stroke="#000" stroke-width="3.2"/>
<path d="M665.1,64.6 L675.1,74.6 M675.1,64.6 L665.1,74.6" stroke="#000" stroke-width="2.8"/>
<text transform="translate(581.21,301.43) scale(0.939,1)" font-size="17.783" font-style="italic" >90</text>
<text transform="translate(601.12,301.88) scale(1.071,1)" font-size="18.468" font-style="italic" >°</text>
<g transform="translate(576.9,235.2) rotate(33)"><text x="-1.9" y="0.3" font-size="20" font-style="italic">l</text><text x="11.2" y="1.4" font-size="18.5">=</text><text x="29.2" y="-1.2" font-size="18.5" font-style="italic">v</text><text x="43.6" y="-0.5" font-size="18.5" font-style="italic">τ</text></g>
</svg></body></html>
